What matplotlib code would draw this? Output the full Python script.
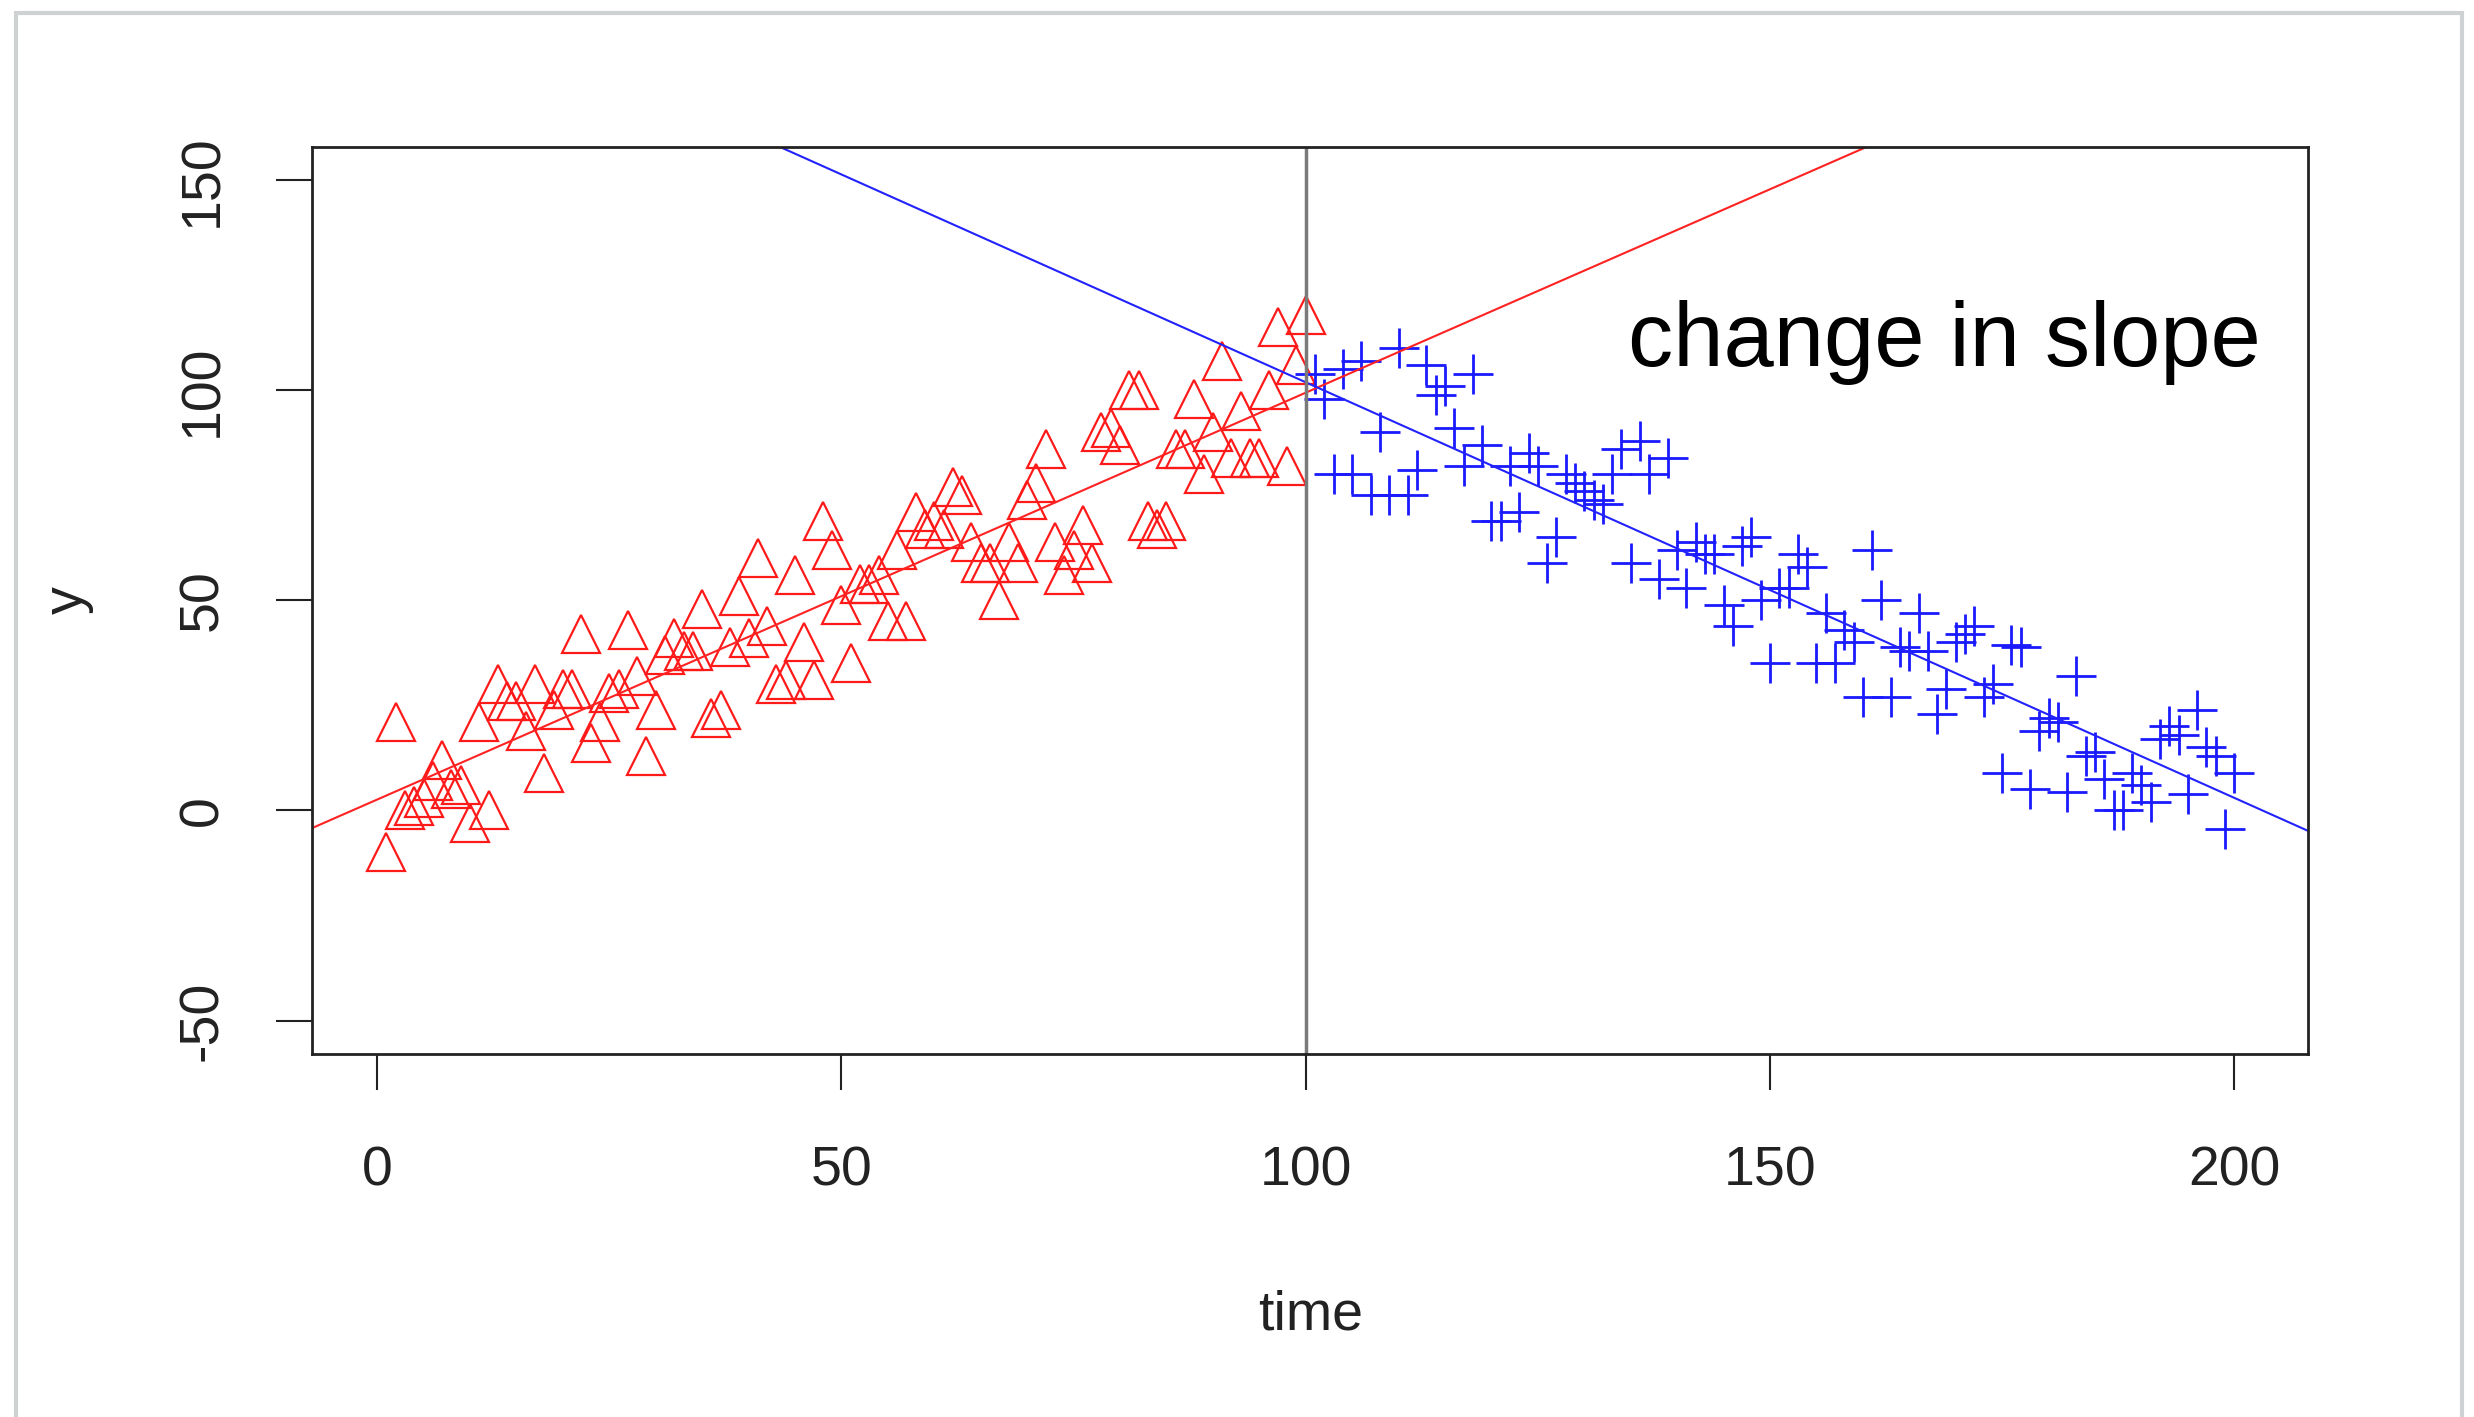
import numpy as np
import matplotlib.pyplot as plt
from matplotlib.patches import Rectangle

plt.rcParams['font.family'] = ['Liberation Sans', 'DejaVu Sans']

# before the change (red triangles)
red_y = [-10, 21, 0, 1, 3, 7, 12, 5, 6, -3, 21, 0, 30, 26, 26, 19, 30, 9, 24, 29,
         29, 42, 16, 21, 28, 29, 43, 32, 13, 24, 37, 41, 38, 38, 48, 22, 24, 39, 51, 41,
         60, 44, 30, 31, 56, 40, 31, 69, 62, 49, 35, 54, 54, 56, 45, 62, 45, 71, 67, 69,
         67, 77, 75, 64, 59, 59, 50, 64, 59, 74, 78, 86, 64, 56, 62, 68, 59, 90, 91, 87,
         100, 100, 69, 67, 69, 86, 86, 98, 80, 90, 107, 84, 95, 84, 84, 100, 115, 82, 106, 118]
# after the change (blue crosses)
blue_y = [104, 98, 80, 105, 80, 107, 75, 90, 75, 110, 75, 81, 106, 99, 101, 91, 82, 104, 87, 69,
          69, 82, 71, 85, 82, 59, 65, 80, 78, 76, 74, 73, 80, 86, 59, 88, 80, 55, 84, 62,
          53, 64, 61, 61, 49, 44, 63, 65, 50, 35, 53, 53, 61, 58, 35, 47, 35, 43, 40, 27,
          62, 50, 27, 39, 38, 47, 38, 23, 29, 40, 42, 44, 27, 30, 9, 39.5, 39, 5, 19, 22,
          21, 4.5, 32, 13, 14, 7.5, 0, 0, 9, 6, 2, 17, 20, 18, 4, 24, 15, 13, -4.5, 9]
red_t = np.arange(1, len(red_y) + 1)
blue_t = np.arange(len(red_y) + 1, len(red_y) + len(blue_y) + 1)
change_at = 100
xticks = [0, 50, 100, 150, 200]
yticks = [-50, 0, 50, 100, 150]

fig = plt.figure(figsize=(24.74, 14.17), dpi=100)
fig.patches.append(Rectangle((16 / 2474, -0.05), (2462 - 16) / 2474, 1.05 - 13 / 1417,
                             transform=fig.transFigure, fill=False,
                             edgecolor='#cfd2d2', linewidth=3))
ax = fig.add_axes([0.1263, 0.2561, 0.933 - 0.1263, 0.8964 - 0.2561])

ax.plot(red_t, red_y, linestyle='none', marker='^', markersize=27,
        markerfacecolor='none', markeredgecolor='#ff1a1a', markeredgewidth=1.6)
ax.plot(blue_t, blue_y, linestyle='none', marker='+', markersize=29,
        color='#1a1aff', markeredgewidth=2.0)

# fitted lines for each segment
b1, a1 = np.polyfit(red_t, red_y, 1)
b2, a2 = np.polyfit(blue_t, blue_y, 1)
ax.axline((0, a1), slope=b1, color='#ff2222', linewidth=1.5)
ax.axline((0, a2), slope=b2, color='#2222ff', linewidth=1.5)
ax.axvline(change_at, color='#7a7a7a', linewidth=2.5)

ax.text(168.8, 111.5, 'change in slope', fontsize=65, ha='center', va='center',
        color='black')

ax.set_xlim(1 - 0.04 * 199, 200 + 0.04 * 199)
ax.set_ylim(-58, 158)
ax.set_xticks(xticks)
ax.set_yticks(yticks)
ax.set_yticklabels([str(v) for v in yticks], rotation=90, va='center')
ax.tick_params(length=26, width=1.5, labelsize=40, colors='#222222', pad=34)
ax.tick_params(axis='x', pad=40)
for s in ax.spines.values():
    s.set_linewidth(2)
    s.set_color('#222222')

ax.set_xlabel('time', fontsize=40, labelpad=66, color='#222222')
ax.set_ylabel('y', fontsize=40, labelpad=60, color='#222222')

fig.savefig('out.png', dpi=100, facecolor='white')
